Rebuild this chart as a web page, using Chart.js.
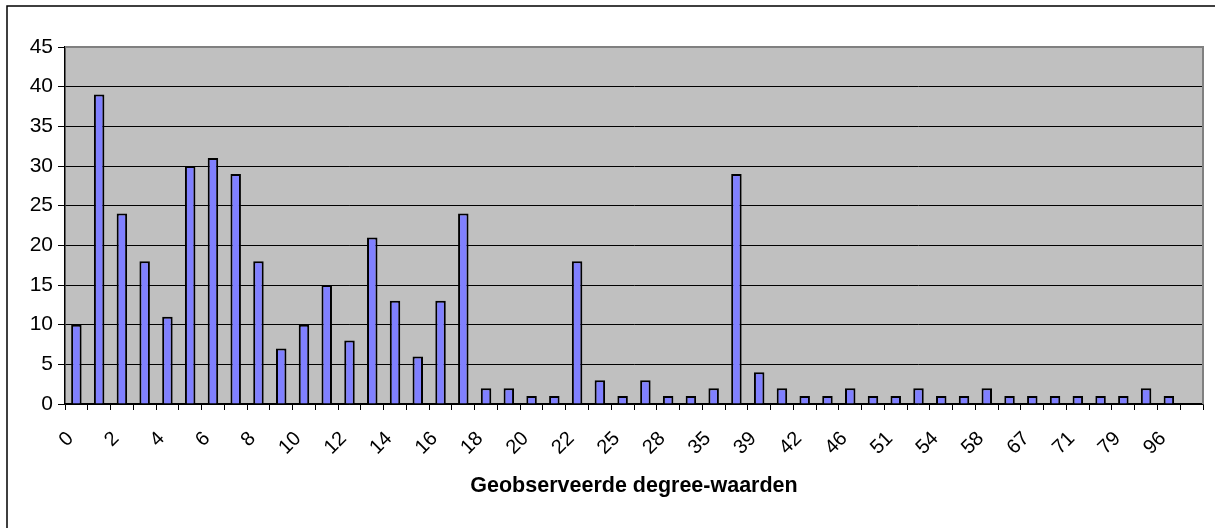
<!DOCTYPE html>
<html>
<head>
<meta charset="utf-8">
<script src="https://cdn.jsdelivr.net/npm/chart.js@4.4.1/dist/chart.umd.min.js"></script>
<style>
  html, body { margin: 0; padding: 0; background: #fff; }
  #wrap { position: relative; width: 1215px; height: 528px; }
  canvas { display: block; }
</style>
</head>
<body>
<div id="wrap"><canvas id="c" width="1215" height="528"></canvas></div>
<script>
// Categories (observed degree values); odd-index labels are hidden in the picture and estimated
const categories = ["0","1","2","3","4","5","6","7","8","9","10","11","12","13","14","15","16","17","18","19",
  "20","21","22","24","25","27","28","31","35","37","39","40","42","44","46","48","51","53","54","56",
  "58","62","67","69","71","75","79","85","96","Meer"];
// Frequencies
const counts = [10,39,24,18,11,30,31,29,18,7,10,15,8,21,13,6,13,24,2,2,
  1,1,18,3,1,3,1,1,2,29,4,2,1,1,2,1,1,2,1,1,
  2,1,1,1,1,1,1,2,1,null];
const yTicks = { min: 0, max: 45, step: 5 };
const xTitle = "Geobserveerde degree-waarden";

const FONT = "'Liberation Sans', Arial, sans-serif";

const frame = {
  id: 'frame',
  beforeDraw(chart) {
    const { ctx, chartArea: a } = chart;
    ctx.save();
    ctx.fillStyle = '#ffffff';
    ctx.fillRect(0, 0, chart.width, chart.height);
    ctx.strokeStyle = '#000000';
    ctx.lineWidth = 1.5;
    ctx.strokeRect(7, 6, chart.width + 20, chart.height + 20);
    ctx.fillStyle = '#C0C0C0';
    ctx.fillRect(a.left, a.top, a.right - a.left, a.bottom - a.top);
    ctx.restore();
  },
  afterDraw(chart) {
    const { ctx, chartArea: a } = chart;
    ctx.save();
    ctx.strokeStyle = '#808080';
    ctx.lineWidth = 2;
    ctx.beginPath();
    ctx.moveTo(a.left, a.top);
    ctx.lineTo(a.right, a.top);
    ctx.lineTo(a.right, a.bottom);
    ctx.stroke();
    ctx.restore();
  }
};

new Chart(document.getElementById('c'), {
  type: 'bar',
  data: {
    labels: categories,
    datasets: [{
      data: counts,
      backgroundColor: '#8080FF',
      borderColor: '#000000',
      borderWidth: 2,
      categoryPercentage: 1,
      barPercentage: 0.46
    }]
  },
  options: {
    responsive: false,
    animation: false,
    devicePixelRatio: 1,
    layout: { padding: { left: 0, top: 47, right: 12, bottom: 0 } },
    plugins: { legend: { display: false }, tooltip: { enabled: false } },
    scales: {
      x: {
        afterFit(scale) { scale.height = 124; scale.paddingLeft = 0; scale.paddingRight = 0; },
        grid: { display: true, drawOnChartArea: false, drawTicks: true, tickLength: 6, tickColor: '#000', offset: true },
        border: { display: true, color: '#000', width: 1.5 },
        ticks: {
          autoSkip: false,
          maxRotation: 45,
          minRotation: 45,
          padding: 17,
          labelOffset: -6,
          color: '#000',
          font: { family: FONT, size: 20 },
          callback(v, i) { return i % 2 === 0 ? categories[i] : ''; }
        },
        title: {
          display: true,
          text: xTitle,
          color: '#000',
          font: { family: FONT, size: 21.5, weight: 'bold' },
          padding: { top: 0, bottom: 29 }
        }
      },
      y: {
        min: yTicks.min,
        max: yTicks.max,
        afterFit(scale) { scale.width = 65; },
        grid: { color: '#000', lineWidth: 1, tickLength: 7, tickColor: '#000' },
        border: { display: true, color: '#000', width: 1.5 },
        ticks: {
          stepSize: yTicks.step,
          padding: 5,
          color: '#000',
          font: { family: FONT, size: 21 }
        }
      }
    }
  },
  plugins: [frame]
});
</script>
</body>
</html>
